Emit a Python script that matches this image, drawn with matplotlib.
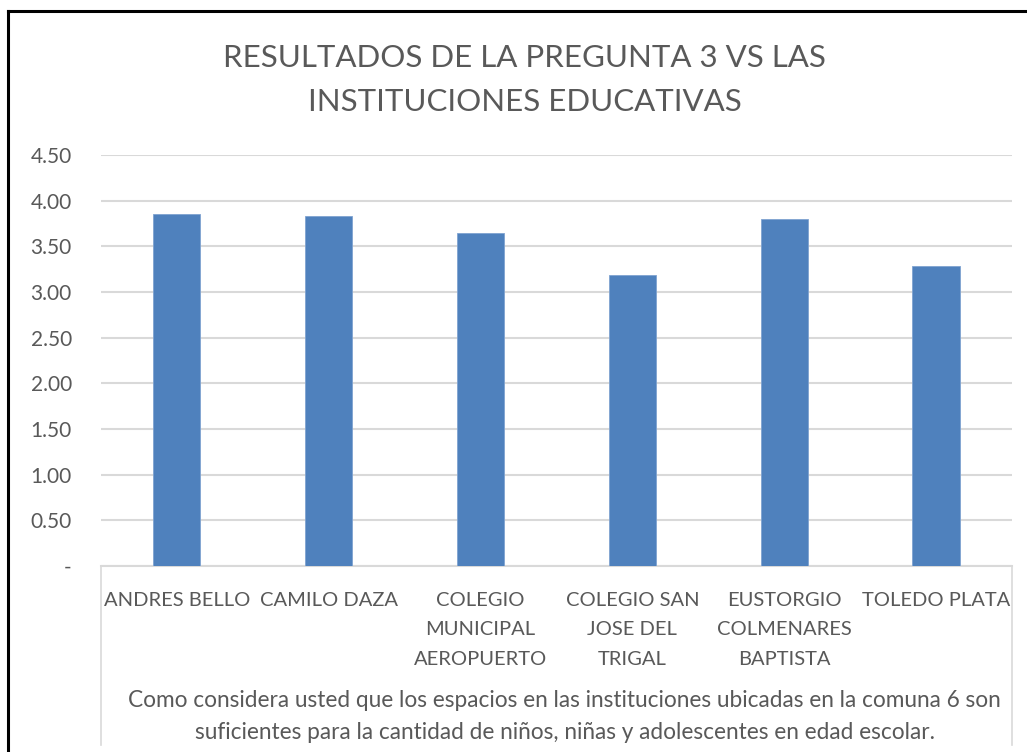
import numpy as np
import matplotlib
matplotlib.use('Agg')
import matplotlib.pyplot as plt
from matplotlib.lines import Line2D

plt.rcParams['font.family'] = ['Lato', 'DejaVu Sans']

categorias = ['ANDRES BELLO', 'CAMILO DAZA', 'COLEGIO\nMUNICIPAL\nAEROPUERTO',
              'COLEGIO SAN\nJOSE DEL\nTRIGAL', 'EUSTORGIO\nCOLMENARES\nBAPTISTA',
              'TOLEDO PLATA']
valores = [3.85, 3.83, 3.65, 3.19, 3.80, 3.28]
yticks = [0, 0.5, 1.0, 1.5, 2.0, 2.5, 3.0, 3.5, 4.0, 4.5]
ytick_labels = ['-', '0.50', '1.00', '1.50', '2.00', '2.50', '3.00', '3.50', '4.00', '4.50']

titulo = 'RESULTADOS DE LA PREGUNTA 3 VS LAS\nINSTITUCIONES EDUCATIVAS'
subtitulo = ('Como considera usted que los espacios en las instituciones ubicadas en la comuna 6 son\n'
             'suficientes para la cantidad de niños, niñas y adolescentes en edad escolar.')

gris = '#595959'

fig = plt.figure(figsize=(10.27, 7.52), dpi=100)
ax = fig.add_axes([0.0983, 0.2473, 0.887, 0.5466])

x = np.arange(len(categorias))
ax.bar(x, valores, width=0.31, color='#4f81bd', edgecolor='#7fa3d1', linewidth=0.6, zorder=3)

ax.set_xlim(-0.5, len(categorias) - 0.5)
ax.set_ylim(0, 4.5)
ax.set_yticks(yticks)
ax.set_yticklabels(ytick_labels)
ax.set_xticks(x)
ax.set_xticklabels(categorias, linespacing=1.9)
ax.tick_params(axis='y', length=0, pad=21, labelsize=15, labelcolor=gris)
ax.tick_params(axis='x', length=0, pad=18.5, labelsize=14.5, labelcolor=gris)
for lab in ax.get_yticklabels():
    lab.set_horizontalalignment('right')

ax.grid(axis='y', color='#d9d9d9', linewidth=1.5, zorder=0)
for s in ['top', 'right', 'left']:
    ax.spines[s].set_visible(False)
ax.spines['bottom'].set_color('#d9d9d9')
ax.spines['bottom'].set_linewidth(1.5)

fig.text(0.511, 0.894, titulo, ha='center', va='center', fontsize=22.5,
         color=gris, linespacing=1.7)
fig.text(0.550, 0.047, subtitulo, ha='center', va='center', fontsize=16.3,
         color=gris, linespacing=1.66)

# marco negro y lineas grises de la zona de categorias
fig.add_artist(Line2D([8/1027, 8/1027], [0, 1 - 11/752], color='black', lw=2.2))
fig.add_artist(Line2D([8/1027, 1], [1 - 11/752, 1 - 11/752], color='black', lw=2.2))
fig.add_artist(Line2D([101/1027, 101/1027], [1 - 745/752, 1 - 566/752], color='#d9d9d9', lw=1.2))
fig.add_artist(Line2D([1012/1027, 1012/1027], [1 - 745/752, 1 - 566/752], color='#d9d9d9', lw=1.2))

plt.savefig('out.png', dpi=100)
